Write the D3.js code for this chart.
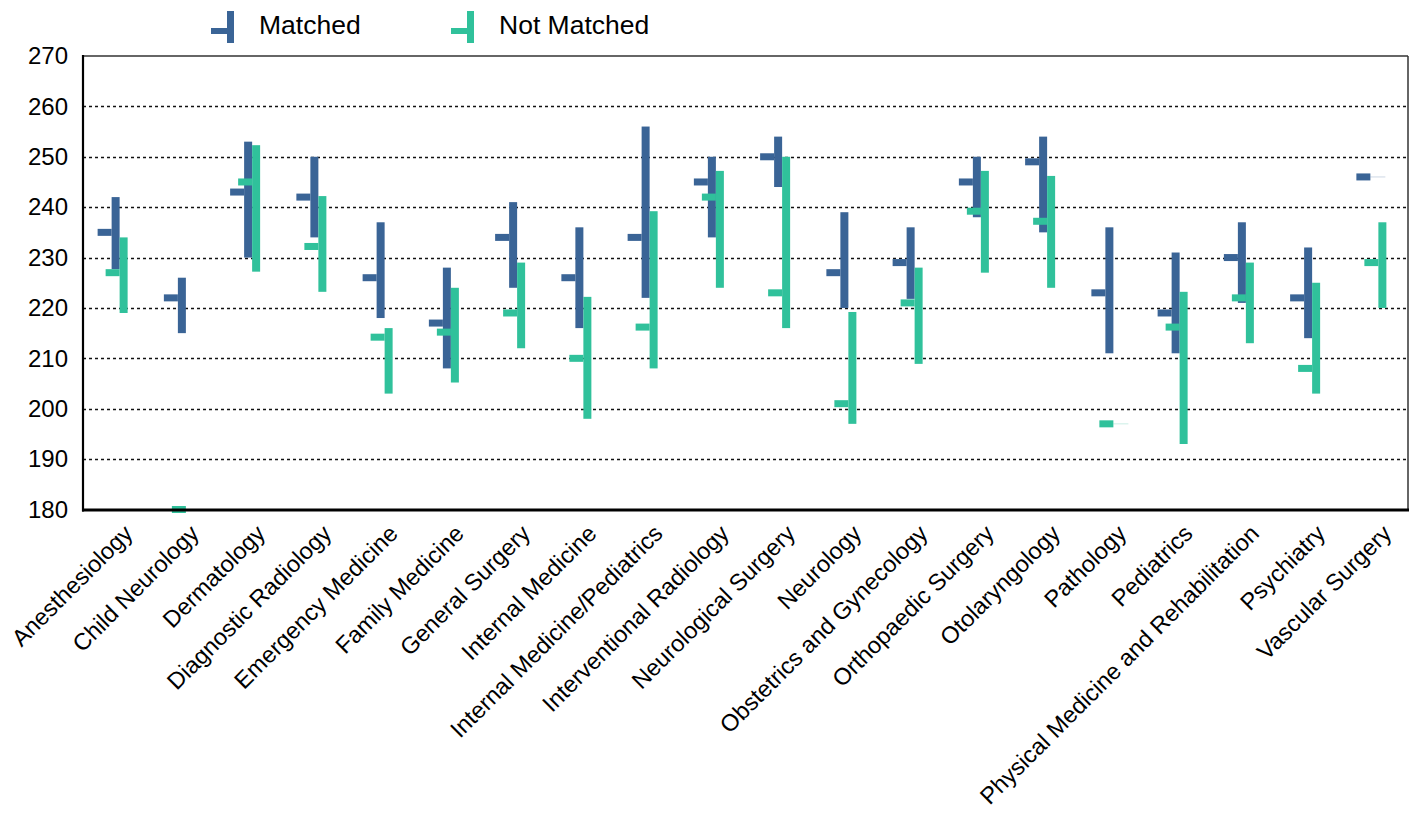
<!DOCTYPE html>
<html>
<head>
<meta charset="utf-8">
<script src="https://cdn.jsdelivr.net/npm/d3@7"></script>
<style>
  html, body { margin: 0; padding: 0; background: #ffffff; }
  svg { display: block; font-family: "Liberation Sans", Arial, sans-serif; }
</style>
</head>
<body>
<svg id="chart" width="1413" height="814"></svg>
<script>
const categories = ["Anesthesiology", "Child Neurology", "Dermatology", "Diagnostic Radiology",
  "Emergency Medicine", "Family Medicine", "General Surgery", "Internal Medicine",
  "Internal Medicine/Pediatrics", "Interventional Radiology", "Neurological Surgery", "Neurology",
  "Obstetrics and Gynecology", "Orthopaedic Surgery", "Otolaryngology", "Pathology", "Pediatrics",
  "Physical Medicine and Rehabilitation", "Psychiatry", "Vascular Surgery"];

const matchedHigh = [242, 226, 253, 250, 237, 228, 241, 236, 256, 250, 254, 239, 236, 250, 254, 236, 231, 237, 232, 246];
const matchedLow  = [227.7, 215, 230, 234, 218, 208, 224, 216, 222, 234, 244, 220, 221.8, 238, 235, 211, 211, 221, 214, 246];
const matchedMark = [235, 222, 243, 242, 226, 217, 234, 226, 234, 245, 250, 227, 229, 245, 249, 223, 219, 230, 222, 246];

const notMatchedHigh = [234, 180, 252.3, 242.2, 216, 224, 229, 222.2, 239.2, 247.2, 250, 219.2, 228, 247.2, 246.2, 197, 223.2, 229, 225, 237];
const notMatchedLow  = [219, 180, 227.2, 223.2, 203, 205.2, 212, 198, 208, 224, 216, 197, 208.9, 227, 224, 197, 193, 213, 203, 220];
const notMatchedMark = [227, 180, 245, 232.2, 214.2, 215.2, 219, 210, 216.2, 242, 223, 201, 221, 239.2, 237.2, 197, 216.2, 222, 208, 229];

const yTicks = [180, 190, 200, 210, 220, 230, 240, 250, 260, 270];
const seriesNames = ["Matched", "Not Matched"];
const colors = ["#3a6496", "#30c19b"];

const svg = d3.select("#chart");
const pLeft = 83, pRight = 1408, pTop = 56, pBottom = 510;

const x = d3.scaleBand().domain(categories).range([pLeft, pRight]);
const y = d3.scaleLinear().domain([180, 270]).range([pBottom - 0.5, pTop]);

// gridlines
svg.append("g").selectAll("line")
  .data(yTicks.filter(t => t > 180 && t < 270))
  .join("line")
  .attr("x1", pLeft).attr("x2", pRight)
  .attr("y1", d => Math.round(y(d)) + 0.5).attr("y2", d => Math.round(y(d)) + 0.5)
  .attr("stroke", "#111").attr("stroke-width", 1.3)
  .attr("stroke-dasharray", "3,3");

// plot border (top/right)
svg.append("line").attr("x1", pLeft).attr("x2", pRight).attr("y1", pTop).attr("y2", pTop)
  .attr("stroke", "#333").attr("stroke-width", 1.6);
svg.append("line").attr("x1", pRight).attr("x2", pRight).attr("y1", pTop).attr("y2", pBottom)
  .attr("stroke", "#333").attr("stroke-width", 1.5);

// y axis labels
const yAxis = d3.axisLeft(y).tickValues(yTicks).tickSize(0).tickPadding(15).tickFormat(d3.format("d"));
const gy = svg.append("g").attr("transform", `translate(${pLeft},0)`).call(yAxis);
gy.select(".domain").remove();
gy.selectAll("text").attr("font-size", 24).attr("fill", "#000")
  .attr("font-family", "'Liberation Sans', Arial, sans-serif");

// series
const series = [
  { hi: matchedHigh, lo: matchedLow, mk: matchedMark, dx: -4.5 },
  { hi: notMatchedHigh, lo: notMatchedLow, mk: notMatchedMark, dx: 3.5 }
];

const lineW = 8, tickW = 14, tickH = 7;

series.forEach((s, si) => {
  const g = svg.append("g");
  const data = categories.map((c, i) => ({ c, hi: s.hi[i], lo: s.lo[i], mk: s.mk[i] }));
  const cx = d => x(d.c) + x.bandwidth() / 2 + s.dx;
  g.selectAll("rect.v").data(data).join("rect")
    .attr("class", "v")
    .attr("x", d => cx(d))
    .attr("width", d => (d.hi === d.lo ? lineW + 7 : lineW))
    .attr("y", d => (d.hi === d.lo ? y(d.hi) - 0.5 : y(d.hi)))
    .attr("height", d => (d.hi === d.lo ? 1 : y(d.lo) - y(d.hi)))
    .attr("fill", colors[si])
    .attr("fill-opacity", d => (d.hi === d.lo ? 0.25 : 1));
  g.selectAll("rect.t").data(data).join("rect")
    .attr("class", "t")
    .attr("x", d => cx(d) - tickW)
    .attr("width", tickW)
    .attr("y", d => y(d.mk) - tickH / 2)
    .attr("height", tickH)
    .attr("fill", colors[si]);
});

// axes lines
svg.append("line").attr("x1", pLeft).attr("x2", pLeft).attr("y1", pTop - 1).attr("y2", pBottom + 1.5)
  .attr("stroke", "#000").attr("stroke-width", 2.2);
svg.append("line").attr("x1", pLeft - 1).attr("x2", pRight + 1).attr("y1", pBottom).attr("y2", pBottom)
  .attr("stroke", "#000").attr("stroke-width", 3);

// x labels
svg.append("g").selectAll("text").data(categories).join("text")
  .attr("transform", d => `translate(${x(d) + x.bandwidth() / 2 + 18},${pBottom + 25}) rotate(-45)`)
  .attr("text-anchor", "end")
  .attr("font-size", 23.5)
  .attr("fill", "#000")
  .text(d => d);

// legend
const legendX = [227, 467];
const legendTextX = [259, 499];
seriesNames.forEach((name, i) => {
  const g = svg.append("g");
  g.append("rect").attr("x", legendX[i]).attr("y", 11).attr("width", 7).attr("height", 32).attr("fill", colors[i]);
  g.append("rect").attr("x", legendX[i] - 16).attr("y", 28).attr("width", 16).attr("height", 6).attr("fill", colors[i]);
  g.append("text").attr("x", legendTextX[i]).attr("y", 34).attr("font-size", 26.5).attr("fill", "#000").text(name);
});
</script>
</body>
</html>
